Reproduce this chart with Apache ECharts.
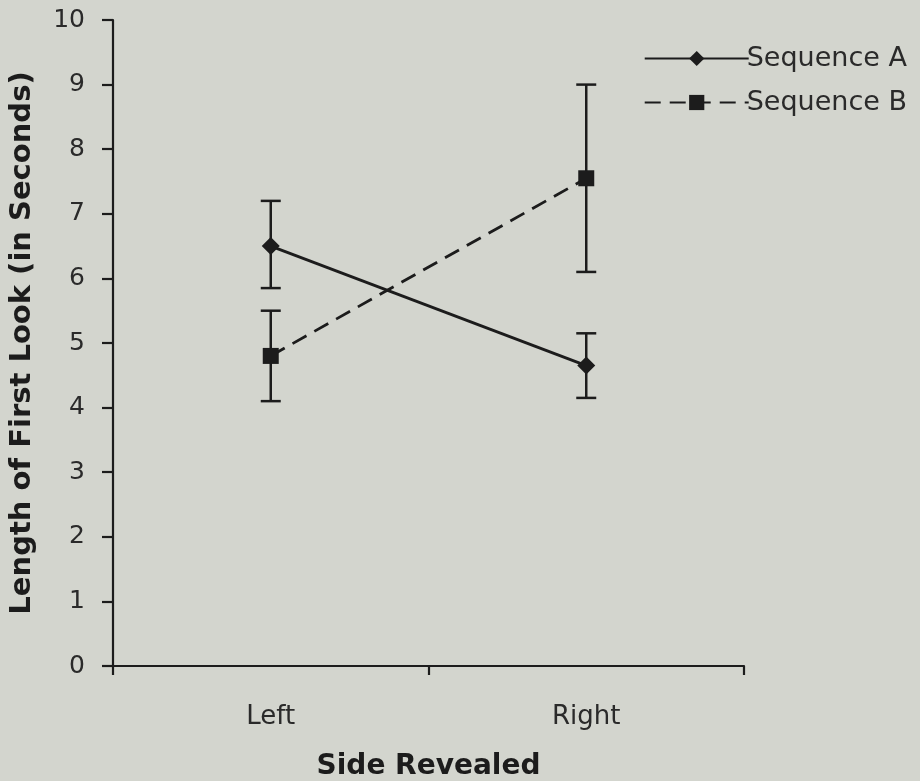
<!DOCTYPE html>
<html><head><meta charset="utf-8">
<script src="https://cdn.jsdelivr.net/npm/echarts@6/dist/echarts.min.js"></script>
<style>html,body{margin:0;padding:0;background:#d3d5ce}#c{width:920px;height:781px}</style>
</head><body><div id="c"></div>
<script>
var categories = ['Left', 'Right'];
var seqA = [6.5, 4.65];
var seqALow = [5.85, 4.15];
var seqAHigh = [7.2, 5.15];
var seqB = [4.8, 7.55];
var seqBLow = [4.1, 6.1];
var seqBHigh = [5.5, 9.0];
var yTicks = [0,1,2,3,4,5,6,7,8,9,10];

var FONT = 'DejaVu Sans';
var INK = '#1c1c1c';

function errData(lo, hi) { return categories.map(function(c, i){ return [i, lo[i], hi[i]]; }); }
function errRender(params, api) {
  var x = api.value(0);
  var lo = api.coord([x, api.value(1)]);
  var hi = api.coord([x, api.value(2)]);
  var hw = 10;
  var st = {stroke: INK, lineWidth: 2.5, fill: null};
  return {type: 'group', children: [
    {type: 'line', shape: {x1: lo[0], y1: lo[1], x2: hi[0], y2: hi[1]}, style: st},
    {type: 'line', shape: {x1: lo[0]-hw, y1: lo[1], x2: lo[0]+hw, y2: lo[1]}, style: st},
    {type: 'line', shape: {x1: hi[0]-hw, y1: hi[1], x2: hi[0]+hw, y2: hi[1]}, style: st}
  ]};
}

var chart = echarts.init(document.getElementById('c'));
chart.setOption({
  backgroundColor: '#d3d5ce',
  animation: false,
  textStyle: {fontFamily: FONT},
  grid: {left: 113, top: 20, right: 176, bottom: 115, outerBoundsMode: 'none', containLabel: false},
  legend: {
    right: 8, top: 40, orient: 'vertical', itemGap: 17,
    itemWidth: 104, itemHeight: 19,
    textStyle: {fontFamily: FONT, fontSize: 27, color: '#2a2a2a', padding: [0,0,0,-7]},
    data: ['Sequence A', 'Sequence B']
  },
  xAxis: {
    type: 'category', data: categories, boundaryGap: true,
    name: 'Side Revealed', nameLocation: 'middle', nameGap: 87,
    nameTextStyle: {fontFamily: FONT, fontSize: 28, fontWeight: 'bold', color: '#1c1c1c'},
    axisLine: {lineStyle: {color: INK, width: 2.2}},
    axisTick: {show: true, length: 9, lineStyle: {color: INK, width: 2.2}},
    axisLabel: {fontFamily: FONT, fontSize: 26, color: '#2a2a2a', margin: 38}
  },
  yAxis: {
    type: 'value', min: 0, max: 10, interval: 1,
    name: 'Length of First Look (in Seconds)', nameLocation: 'middle', nameGap: 76,
    nameTextStyle: {fontFamily: FONT, fontSize: 29, fontWeight: 'bold', color: '#1c1c1c'},
    splitLine: {show: false},
    axisLine: {show: true, lineStyle: {color: INK, width: 2.2}},
    axisTick: {show: true, length: 11, lineStyle: {color: INK, width: 2.2}},
    axisLabel: {fontFamily: FONT, fontSize: 25, color: '#2a2a2a', margin: 28,
      formatter: function(v){ return yTicks.indexOf(v) >= 0 ? String(v) : ''; }}
  },
  series: [
    {name: 'Sequence A', type: 'line', data: seqA, symbol: 'diamond', symbolSize: 18,
     lineStyle: {color: INK, width: 2.8}, itemStyle: {color: INK}, z: 3},
    {name: 'Sequence B', type: 'line', data: seqB, symbol: 'rect', symbolSize: 16,
     lineStyle: {color: INK, width: 2.8, type: [16, 9]}, itemStyle: {color: INK}, z: 3},
    {type: 'custom', renderItem: errRender, data: errData(seqALow, seqAHigh), z: 2, silent: true},
    {type: 'custom', renderItem: errRender, data: errData(seqBLow, seqBHigh), z: 2, silent: true}
  ]
});
</script></body></html>
